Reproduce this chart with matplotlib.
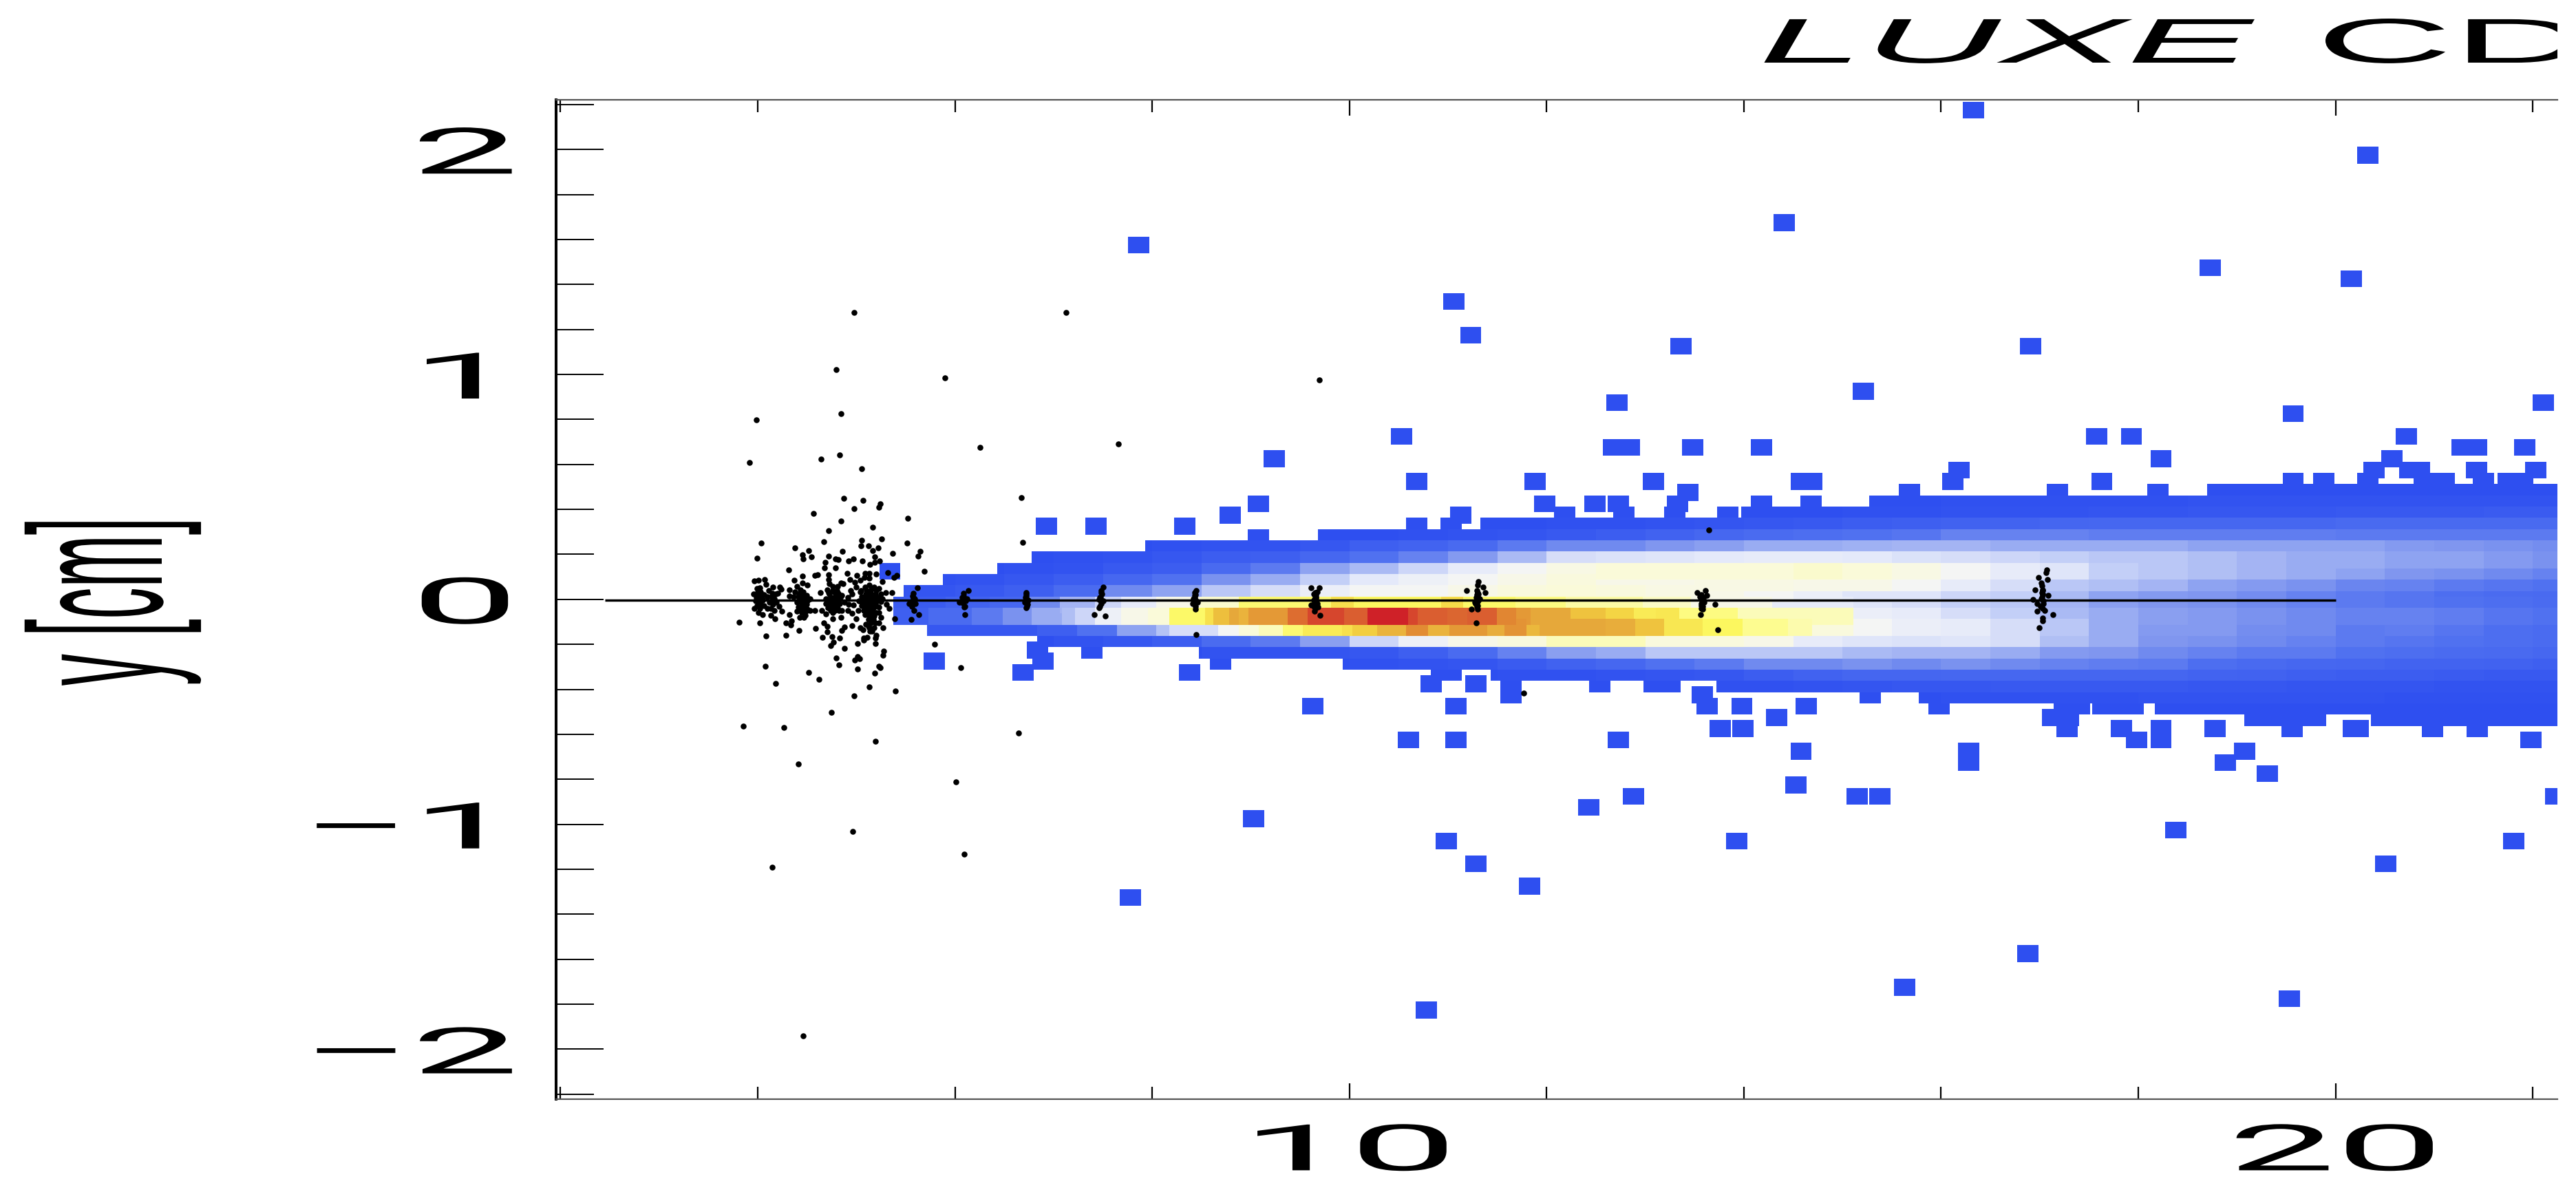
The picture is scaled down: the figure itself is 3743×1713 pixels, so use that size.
import numpy as np
import matplotlib
matplotlib.use("Agg")
from matplotlib import pyplot as plt
from matplotlib import patheffects as pe
from matplotlib.colors import LinearSegmentedColormap
from matplotlib.ticker import MultipleLocator
from matplotlib.transforms import Affine2D, Bbox

# density map, levels 0-100, one line per row, columns start at column_left
row_y = [0.475, 0.425, 0.375, 0.325, 0.275, 0.225, 0.175, 0.125, 0.075, 0.025, -0.025,
         -0.075, -0.125, -0.175, -0.225, -0.275, -0.325, -0.375, -0.425, -0.475, -0.525]
row_start = [18.7, 15.27, 13.97, 11.33, 9.68, 7.93, 6.78, 6.43, 5.88, 5.48, 15.112,
             15.11, 15.112, 6.83, 8.48, 9.93, 11.43, 13.72, 15.77, 18.17, 20.36]
column_left = [5 + 0.5 * i for i in range(35)]
levels = [
    [0]*35,
    [0]*22 + [1, 1, 1, 1, 1, 2, 2, 2, 2, 2, 2, 2, 2],
    [0]*20 + [1, 1, 2, 2, 2, 3, 3, 4, 4, 4, 5, 5, 5, 6, 6],
    [0]*14 + [1, 1, 2, 3, 4, 5, 7, 8, 9, 10, 11, 12, 12, 12, 12, 12, 13, 13, 13, 13, 13],
    [0]*11 + [1, 2, 3, 5, 7, 9, 12, 14, 15, 16, 17, 20, 20, 20, 19, 19, 19, 19, 19, 18, 18, 18, 18, 18],
    [0]*6 + [1, 2, 2, 4, 8, 10, 13, 18, 22, 22, 25, 27, 30, 30, 31, 32, 32, 30, 30, 30, 30, 28, 28, 28, 28, 26, 25, 24, 23],
    [0]*4 + [1, 2, 4, 7, 8, 12, 16, 20, 26, 33, 42, 43, 44, 45, 46, 46, 45, 43, 42, 40, 38, 36, 36, 34, 32, 30, 30, 28, 28, 26, 24],
    [0]*3 + [1, 2, 5, 7, 13, 18, 28, 33, 40, 46, 50, 53, 55, 55, 55, 55, 56, 55, 53, 50, 46, 44, 38, 36, 34, 32, 30, 28, 25, 24, 22, 20],
    [0, 1, 2, 4, 7, 12, 16, 24, 30, 38, 45, 48, 50, 52, 54, 52, 52, 53, 53, 52, 52, 50, 46, 42, 36, 34, 32, 28, 26, 24, 21, 20, 18, 17, 16],
    [2, 3, 5, 8, 14, 22, 28, 36, 42, 47, 50, 50, 52, 54, 55, 54, 53, 52, 50, 47, 44, 44, 40, 38, 33, 28, 26, 25, 23, 20, 18, 17, 15, 14, 13],
    [5, 8, 10, 15, 30, 44, 52, 60, 64, 68, 70, 68, 72, 66, 65, 62, 58, 55, 50, 47, 44, 42, 38, 36, 32, 27, 25, 24, 22, 20, 18, 17, 16, 15, 14],
    [8, 12, 16, 20, 38, 50, 66, 76, 83, 90, 97, 96, 92, 84, 76, 74, 68, 62, 56, 52, 47, 46, 42, 38, 33, 30, 27, 26, 24, 22, 20, 20, 19, 17, 16],
    [0, 5, 6, 8, 16, 28, 40, 47, 58, 68, 76, 84, 82, 82, 80, 80, 75, 68, 60, 54, 50, 47, 46, 42, 36, 30, 26, 26, 23, 22, 18, 19, 17, 15, 14],
    [0]*4 + [2, 4, 7, 14, 18, 27, 40, 48, 52, 54, 58, 58, 54, 54, 52, 46, 44, 43, 44, 42, 34, 30, 25, 24, 22, 20, 18, 17, 16, 15, 14],
    [0]*7 + [2, 2, 3, 4, 8, 14, 20, 27, 30, 36, 36, 36, 36, 33, 32, 32, 30, 26, 25, 22, 20, 18, 18, 16, 15, 14, 13, 12],
    [0]*10 + [1, 2, 3, 6, 9, 12, 16, 18, 22, 22, 24, 22, 24, 22, 20, 19, 18, 15, 13, 12, 11, 10, 10, 9, 8],
    [0]*13 + [1, 1, 2, 3, 4, 7, 9, 11, 11, 12, 12, 11, 11, 11, 10, 9, 8, 7, 7, 6, 5, 5],
    [0]*17 + [1, 1, 2, 3, 4, 4, 5, 5, 5, 5, 4, 4, 3, 3, 3, 2, 2, 2],
    [0]*22 + [1, 1, 1, 1, 2, 2, 2, 2, 2, 1, 1, 1, 1],
    [0]*35,
    [0]*35,
]

# the three hottest rows change faster, so they get their own edges up to x = 15.11
hot_y = [-0.025, -0.075, -0.125]
hot_edges = [
    [5.376, 5.906, 6.351, 6.752, 7.063, 7.419, 7.687, 8.043, 8.488, 8.880, 9.815, 10.046, 10.928,
     11.150, 11.684, 12.196, 12.975, 13.465, 14.289, 15.112],
    [5.376, 5.728, 6.173, 6.485, 6.778, 7.086, 7.219, 7.419, 7.687, 7.954, 8.176, 8.533, 8.622, 8.777,
     8.880, 8.978, 9.374, 9.574, 9.948, 10.18, 10.594, 10.696, 10.994, 11.195, 11.493, 11.693, 11.840,
     12.241, 12.597, 12.886, 13.109, 13.345, 13.941, 15.11],
    [5.72, 6.83, 7.24, 7.64, 8.04, 8.17, 8.67, 8.880, 9.080, 9.325, 9.525, 9.926, 10.028, 10.282, 10.571,
     10.794, 11.017, 11.395, 11.573, 11.796, 11.929, 12.597, 12.895, 13.189, 13.585, 13.990, 14.445,
     14.690, 15.112],
]
hot_levels = [
    [6, 9, 12, 22, 32, 40, 46, 52, 56, 66, 72, 68, 73, 67, 64, 60, 57, 52, 46],
    [8, 14, 18, 24, 30, 34, 40, 48, 52, 55, 67, 72, 78, 82,
     80, 84, 91, 96, 93, 100, 96, 93, 92, 93, 87, 84, 82, 77, 74, 70, 71, 64, 58],
    [4, 8, 16, 28, 35, 42, 50, 55, 58, 66, 70, 72, 75, 80, 86, 80, 84, 81, 85, 79, 82, 81, 77, 71, 68, 62, 59, 54],
]

# single boxes outside the core of the band
box_x = [5.34, 6.93, 7.43, 8.33, 8.79, 5.79, 6.69, 6.84, 6.89, 7.39, 8.58, 8.69, 8.38,
         10.53, 9.24, 12.68, 12.84, 13.48, 14.18, 10.68, 11.88, 13.08, 14.58, 14.69,
         13.43, 15.68, 9.08, 11.98, 12.49, 12.73, 13.33, 14.18, 14.68, 15.38, 15.56, 15.8,
         11.13, 12.18, 12.78, 13.3, 13.84, 9.08, 10.68, 11.03,
         10.93, 11.03, 10.83, 11.28, 11.64, 11.64, 12.54, 13.09, 13.25, 13.58, 13.63, 13.98,
         14.63, 14.33, 15.28, 9.63, 11.08, 13.76, 13.99,
         16.18, 16.12, 17.18, 17.63, 17.58, 17.93, 18.23, 18.2, 19.57, 19.88, 20.33, 20.57,
         20.39, 20.75, 20.85, 20.72, 21.28, 21.43, 21.92, 21.43, 22.03, 20.9, 21.1, 21.5,
         21.75, 21.9, 19.57,
         15.98, 17.25, 17.4, 17.64, 17.82, 17.95, 17.13, 17.29, 17.83, 18.23, 19.18, 19.4,
         19.6, 19.8, 20.23, 17.28, 17.98, 18.23, 18.78, 19.56, 20.18, 20.98, 21.44,
         16.33, 20.33, 7.86, 11.06, 11.23, 14.41, 18.73, 20.16, 13.36, 16.91, 15.21, 12.71, 22.11,
         7.78, 9.03, 10.6, 11.08, 10.98, 11.28, 11.83, 10.78, 12.43, 12.88, 12.73, 13.93,
         14.53, 14.58, 15.15, 15.38, 16.28, 16.28, 15.63, 16.88, 18.38, 18.88, 19.08, 19.31,
         19.53, 20.51, 21.81, 22.23, 21.98]
box_y = [0.125, 0.325, 0.325, 0.325, 0.375, -0.275, -0.325, -0.225, -0.275, -0.225, -0.225, -0.275, -0.325,
         0.725, 0.625, 0.675, 0.675, 0.675, 0.675, 0.525, 0.525, 0.525, 0.525, 0.525,
         0.475, 0.475, 0.425, 0.425, 0.425, 0.425, 0.425, 0.425, 0.425, 0.425, 0.425, 0.425,
         0.375, 0.375, 0.375, 0.375, 0.375, 0.275, 0.325, 0.325,
         -0.325, -0.325, -0.375, -0.375, -0.375, -0.425, -0.375, -0.375, -0.375, -0.425, -0.475, -0.475,
         -0.475, -0.525, -0.425, -0.475, -0.475, -0.575, -0.575,
         0.575, 0.525, 0.475, 0.525, 0.725, 0.725, 0.625, 0.475, 0.525, 0.525, 0.525, 0.625,
         0.575, 0.575, 0.575, 0.725, 0.675, 0.675, 0.675, 0.575, 0.575, 0.525, 0.525, 0.525,
         0.525, 0.525, 0.825,
         -0.475, -0.475, -0.475, -0.475, -0.475, -0.475, -0.525, -0.525, -0.575, -0.575, -0.525, -0.525,
         -0.525, -0.525, -0.575, -0.575, -0.625, -0.625, -0.575, -0.575, -0.575, -0.575, -0.575,
         2.175, 1.975, 1.575, 1.325, 1.175, 1.675, 1.475, 1.425, 1.125, 1.125, 0.925, 0.875, 0.875,
         -1.325, -0.975, -0.625, -0.625, -1.075, -1.175, -1.275, -1.825, -0.925, -0.875, -0.625, -1.075,
         -0.825, -0.675, -0.875, -0.875, -0.675, -0.725, -1.725, -1.575, -1.025, -0.725, -0.675, -0.775,
         -1.775, -1.175, -1.075, -0.875, -0.625]

dot_x = [4.037, 4.668, 5.052, 5.257, 5.515, 4.377, 5.047, 5.124, 5.168, 5.222, 4.456, 4.517, 4.859, 3.995, 4.463,
         4.545, 4.721, 5.371, 5.650, 5.624, 5.187, 4.787, 4.814, 4.924, 4.970, 5.061, 4.682, 5.233, 5.184, 5.140,
         4.677, 4.791, 5.319, 5.410, 5.380, 5.692, 4.317, 4.908, 4.454, 4.582, 4.610, 4.717, 5.003, 5.089, 5.133,
         5.203, 4.933, 3.963, 4.009, 4.072, 4.081, 4.370, 4.451, 4.505, 4.721, 4.724, 4.982, 5.040, 5.080, 5.133,
         5.266, 4.847, 4.866, 4.156, 4.226, 4.240, 3.993, 4.023, 4.321, 4.400, 4.431, 4.638, 4.940, 4.998,
         3.958, 3.993, 4.028, 3.988, 4.028, 4.063, 4.109, 4.144, 4.184, 4.202, 3.981, 4.016, 4.051, 4.098, 4.137,
         4.168, 4.191, 3.993, 4.028, 4.063, 4.121, 4.156, 4.214, 3.963, 4.005, 4.051, 4.098, 4.168, 4.133, 4.175,
         4.242, 4.019, 3.814, 4.086, 4.074, 4.286, 4.289,
         4.323, 4.377, 4.424, 4.458, 4.493, 4.528, 4.365, 4.412, 4.458, 4.505, 4.400, 4.447, 4.493, 4.412, 4.458,
         4.505, 4.400, 4.447, 4.486, 4.528, 4.424, 4.470, 4.323, 4.342, 4.337, 4.417, 4.579, 4.647,
         4.703, 4.761, 4.808, 4.726, 4.773, 4.819, 4.854, 4.691, 4.738, 4.784, 4.831, 4.691, 4.738, 4.784, 4.831,
         4.877, 4.912, 4.959, 4.924, 4.970, 4.714, 4.761, 4.808, 4.854, 4.912, 4.959, 4.691, 4.761, 4.761, 4.847,
         4.668, 4.703, 4.584, 4.705, 4.659, 4.752, 4.828, 4.770, 4.740, 4.877, 4.794, 4.824, 4.517, 4.877, 4.849, 4.954,
         5.040, 5.087, 5.133, 5.180, 5.226, 5.052, 5.098, 5.145, 5.191, 5.250, 5.296, 5.361, 5.029, 5.075, 5.122,
         5.168, 5.215, 5.261, 5.052, 5.098, 5.145, 5.191, 5.308, 5.017, 5.075, 5.122, 5.168, 5.226, 5.331, 5.087,
         5.133, 5.180, 5.250, 4.998, 5.098, 5.145, 5.191, 5.226, 5.133, 5.180, 5.040, 5.070, 5.140, 5.273, 5.075,
         5.110, 5.075, 5.191, 5.203, 5.196, 5.015, 5.278, 5.271, 5.010, 5.036, 4.982, 5.231, 5.240, 5.012, 5.187,
         5.392, 5.557, 5.634, 5.617, 5.580, 5.575, 5.564, 5.599, 5.534, 5.587, 5.594,
         3.983, 4.846, 6.253, 7.655, 3.916, 4.641, 4.833, 5.055, 4.873, 5.069, 5.243, 5.229, 4.980, 4.566, 4.842,
         5.523, 5.167, 4.717, 6.672, 5.795, 6.062, 6.102, 6.689, 7.411, 7.526, 8.444, 4.183, 5.127, 5.394, 4.980,
         4.748, 4.619, 4.978, 7.128, 4.795, 5.895, 9.695, 3.855, 4.262, 4.412, 4.145, 4.962, 5.195, 6.012, 6.095,
         6.645, 4.46,
         6.133, 6.088, 6.075, 6.048, 6.106, 6.097, 6.119, 6.725, 6.716, 6.729, 6.734, 6.721, 6.743, 6.707,
         7.504, 7.486, 7.473, 7.464, 7.500, 7.482, 7.464, 8.448, 8.430, 8.421, 8.444, 8.412, 8.457, 8.439,
         9.614, 9.694, 9.677, 9.659, 9.636, 9.672, 9.614, 9.645, 9.703, 9.681, 9.645,
         11.306, 11.297, 11.359, 11.190, 11.377, 11.306, 11.284, 11.319, 11.270, 11.297, 11.239, 11.297, 11.284,
         13.523, 13.608, 13.621, 13.554, 13.576, 13.599, 13.568, 13.585, 13.563, 13.706, 13.737, 13.643, 11.769,
         17.069, 17.065, 16.985, 17.077, 17.019, 16.951, 17.027, 17.027, 17.086, 16.935, 17.014, 17.035, 16.972,
         17.014, 17.048, 16.972, 17.136, 17.027, 17.031, 16.993,
         # packed on the sensors
         5.05, 5.10, 5.15, 5.20, 5.08, 5.13, 5.18, 5.23, 5.05, 5.10, 5.15, 5.20, 5.25, 5.08, 5.13, 5.18, 5.23,
         5.10, 5.15, 5.20, 5.12, 5.17, 5.12, 5.16,
         4.72, 4.76, 4.80, 4.72, 4.76, 4.80, 4.84, 4.72, 4.76, 4.80, 4.74, 4.78, 4.82,
         4.42, 4.46, 4.44, 4.48, 4.42, 4.46, 4.48,
         4.03, 4.03, 4.00, 4.05, 4.02, 4.15, 4.15, 4.13, 4.18,
         5.57, 5.58, 5.56, 6.09, 6.10, 6.08, 6.10, 6.72, 6.73, 6.72, 6.73, 6.72,
         7.48, 7.48, 7.47, 7.48, 7.47, 8.43, 8.44, 8.43, 8.44, 8.43, 8.44,
         9.65, 9.66, 9.65, 9.65, 9.66, 9.65, 9.64, 9.65, 9.66, 9.64,
         11.29, 11.30, 11.29, 11.30, 11.29, 11.30, 11.28, 11.29, 11.31, 11.30,
         13.57, 13.58, 13.57, 13.58, 13.57, 13.58, 13.57, 13.59,
         17.02, 17.03, 17.02, 17.03, 17.02, 17.04, 17.01, 17.03]
dot_y = [.251, .256, .263, .270, .251, .229, .238, .238, .217, .228, .199, .216, .214, .183, .179,
         .189, .193, .204, .214, .191, .188, .179, .176, .172, .179, .172, .166, .170, .166, .155,
         .139, .140, .120, .107, .096, .126, .132, .117, .104, .108, .111, .110, .106, .115, .117,
         .112, .089, .081, .084, .088, .066, .084, .074, .064, .089, .069, .077, .084, .096, .094,
         .079, .074, .069, .056, .054, .044, .047, .051, .042, .059, .043, .029, .038, .054,
         .023, .028, .033, .008, .011, .021, .038, .028, .023, .028, -.008, -.008, -.003, .013, .011,
         .003, -.013, -.028, -.023, -.028, -.013, -.023, -.030, -.040, -.059, -.067, -.040, -.048, -.071, -.086,
         -.054, -.105, -.100, -.162, -.296, -.159, -.106,
         .015, .033, .028, .033, .018, .003, .011, .011, .005, -.008, -.013, -.018, -.023, -.033, -.038,
         -.043, -.054, -.059, -.054, -.050, -.079, -.079, -.067, -.094, -.113, -.137, -.048, -.050,
         .043, .059, .059, .023, .033, .028, .018, .003, .008, .011, .003, -.018, -.013, -.013, -.018,
         -.013, .008, .023, -.023, -.026, -.038, -.033, -.038, -.048, -.050, -.061, -.064, -.059, -.087, -.081,
         -.105, -.120, -.130, -.145, -.169, -.166, -.171, -.189, -.204, -.217, -.261, -.290, -.326, -.122, -.137, -.117,
         .033, .054, .064, .054, .048, .013, .023, .028, .023, .023, .031, .030, -.008, -.003, .003,
         .003, -.003, .003, -.028, -.023, -.023, -.023, -.023, -.050, -.048, -.043, -.048, -.059, -.041, -.069,
         -.074, -.074, -.079, -.086, -.110, -.105, -.105, -.105, -.125, -.125, -.127, -.135, -.140, -.126, -.171,
         -.168, -.181, -.171, -.159, -.196, -.196, -.230, -.249, -.254, -.263, -.271, -.296, -.303, -.309, -.329,
         -.086, -.089, -.069, .051, .028, .008, -.013, -.018, -.020, -.048, .003,
         .799, .827, .676, .692, .607, .623, .642, .581, .449, .440, .426, .409, .403, .382, .347,
         .362, .320, .305, .452, -.199, -.302, -.067, .255, -.067, -.074, -.157, -.374, -.390, -.406, -.429,
         -.501, -.356, 1.277, 1.277, 1.021, .985, .977, -.564, -.571, -.732, -1.192, -1.031, -.63, -.812, -1.134,
         -.593, -1.94,
         .038, .028, .008, -.013, -.008, -.033, .003, .023, .008, -.008, -.023, -.038, -.003, -.013,
         .056, .023, .008, -.002, -.008, -.018, -.038, .038, .018, .003, -.008, -.018, -.013, -.043,
         .051, .051, .033, .013, -.003, -.018, -.026, -.054, -.071, -.033, -.008,
         .079, .064, .054, .040, .030, .023, .008, .003, -.012, -.028, -.043, -.043, -.104,
         .030, .038, .018, .013, -.002, -.013, -.028, -.043, -.067, -.021, -.134, .310, -.418,
         .132, .118, .096, .088, .074, .041, .043, .023, .018, .001, .003, -.007, -.018,
         -.033, -.048, -.053, -.067, -.084, -.094, -.126,
         .04, .04, .045, .04, .01, .01, .01, .01, -.01, -.01, -.01, -.01, -.01, -.035, -.035, -.035, -.035,
         -.06, -.06, -.06, -.09, -.09, -.12, -.14,
         .03, .04, .04, 0, .005, .01, .01, -.03, -.02, -.02, -.05, -.05, -.05,
         .02, .02, -.005, -.005, -.04, -.03, -.07,
         .02, -.01, .01, 0, -.04, .015, -.005, -.04, -.01,
         .015, .0, -.03, .015, 0, -.015, -.03, .015, 0, -.015, -.03, .03,
         .04, .03, .01, -.01, -.03, .03, .02, .01, -.005, -.02, -.03,
         .03, .02, .01, 0, -.01, -.02, -.03, -.04, .005, .025,
         .04, .03, .02, .01, 0, -.01, -.02, -.03, -.005, .015,
         .02, .01, 0, -.01, -.02, -.03, -.04, .005,
         .06, .04, .03, .02, .01, -.02, -.03, -.04]

line_x = [2.45, 20]
line_y = [-0.005, -0.005]
y_ticks = [-2, -1, 0, 1, 2]
y_labels = ["\u22122", "\u22121", "0", "1", "2"]
x_ticks = [10, 20]
x_labels = ["10", "20"]

W, H = 3743, 1713
STRETCH = 3.0

plt.rcParams["font.family"] = ["Liberation Sans", "DejaVu Sans"]


class Stretch(pe.AbstractPathEffect):
    # the original canvas was pulled wide, so the text is too
    def __init__(self, text):
        super().__init__()
        self.text = text

    def draw_path(self, renderer, gc, tpath, affine, rgbFace=None):
        a = self.text.get_transform().transform(self.text.get_unitless_position())[0]
        wide = Affine2D().translate(-a, 0).scale(STRETCH, 1).translate(a, 0)
        renderer.draw_path(gc, tpath, affine + wide, rgbFace)


def wide(text):
    text.set_path_effects([Stretch(text)])


density = LinearSegmentedColormap.from_list("density", [
    (0.00, "#2e4ff0"), (0.15, "#4d6ef0"), (0.25, "#7f96ef"), (0.35, "#b5c3f5"),
    (0.45, "#e4e9fa"), (0.50, "#f4f5f5"), (0.55, "#fafad8"), (0.62, "#fdfc90"),
    (0.68, "#fcf860"), (0.75, "#f3d040"), (0.82, "#e6a83a"), (0.88, "#e08030"),
    (0.94, "#d95a30"), (1.00, "#cf2128")])

fig = plt.figure(figsize=(W / 100, H / 100), dpi=100)
ax = fig.add_axes([808 / W, 1 - 1597 / H, (3716 - 808) / W, (1597 - 145) / H])

lefts, rights, ys, vals = [], [], [], []
for y, start, row in zip(row_y, row_start, levels):
    for left, v in zip(column_left, row):
        l = max(left, start)
        r = left + 0.5
        if r > l:
            lefts.append(l)
            rights.append(r)
            ys.append(y)
            vals.append(v)
for y, edges, row in zip(hot_y, hot_edges, hot_levels):
    for i, v in enumerate(row):
        lefts.append(edges[i])
        rights.append(edges[i + 1])
        ys.append(y)
        vals.append(v)
lefts = np.array(lefts)
rights = np.array(rights)
ys = np.array(ys)
vals = np.array(vals)
order = np.argsort(vals, kind="stable")  # denser cells are painted last

ax.bar(np.array(box_x) - 0.108, 0.075, width=0.216, bottom=np.array(box_y) - 0.0375,
       align="edge", color=density(0.0), linewidth=0, zorder=1)
ax.bar(lefts[order], 0.075, width=(rights - lefts)[order], bottom=ys[order] - 0.0375,
       align="edge", color=density(vals[order] / 100), linewidth=0, antialiased=False, zorder=1)

ax.plot(line_x, line_y, color="black", lw=2.5, solid_capstyle="butt", zorder=3)
ax.scatter(dot_x, dot_y, s=38, color="black", linewidths=0, zorder=4)

ax.set_xlim(1.955, 22.25)
ax.set_ylim(-2.222, 2.221)
ax.set_xticks(x_ticks, x_labels)
ax.set_yticks(y_ticks, y_labels)
ax.xaxis.set_minor_locator(MultipleLocator(2))
ax.yaxis.set_minor_locator(MultipleLocator(0.2))
ax.tick_params(axis="x", which="major", direction="in", top=True, length=16.5, width=1.6, pad=24, labelsize=67,
               labelfontfamily="Roboto")
ax.tick_params(axis="x", which="minor", direction="in", top=True, length=13, width=1.6)
ax.tick_params(axis="y", which="major", direction="in", length=50, width=1.4, pad=39, labelsize=67,
               labelfontfamily="Roboto")
ax.tick_params(axis="y", which="minor", direction="in", length=39.6, width=1.4)
for t in ax.get_xticklabels() + ax.get_yticklabels():
    wide(t)

ax.spines["right"].set_visible(False)
ax.spines["left"].set_linewidth(2.9)
ax.spines["top"].set_linewidth(1.6)
ax.spines["bottom"].set_linewidth(1.6)
ax.spines["top"].set_color("#555555")
ax.spines["bottom"].set_color("#555555")

wide(fig.text(163 / W, 1 - 874 / H, "y [cm]", fontsize=66, rotation=90, ha="center", va="center"))
t1 = fig.text(2555 / W, 1 - 91 / H, "LUXE", fontsize=66, style="italic", ha="left", va="baseline")
t2 = fig.text(3365 / W, 1 - 91 / H, "CD", fontsize=66, ha="left", va="baseline")
for t in (t1, t2):
    wide(t)
    t.set_clip_box(Bbox([[0, 0], [3716, H]]))
    t.set_clip_on(True)

fig.savefig("out.png", dpi=100, facecolor="white")
